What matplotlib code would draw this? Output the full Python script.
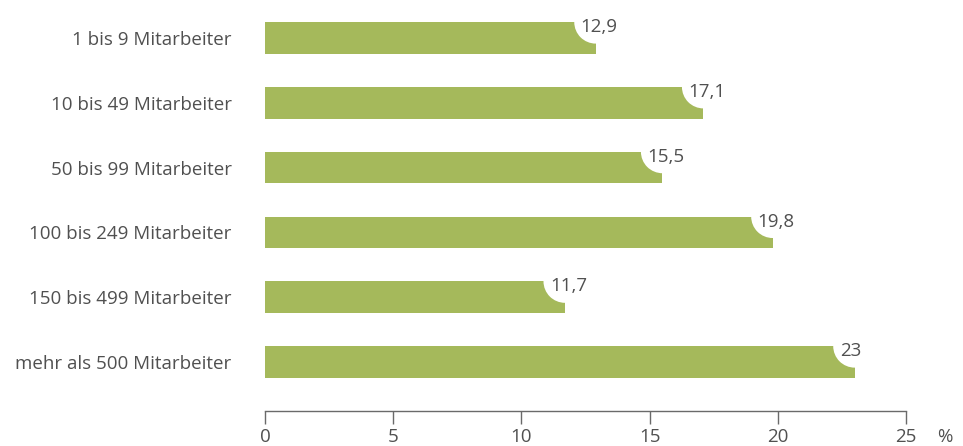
import matplotlib
matplotlib.use("Agg")
import matplotlib.pyplot as plt
from matplotlib.patches import Circle
from matplotlib.transforms import ScaledTranslation

plt.rcParams["font.family"] = ["Open Sans", "DejaVu Sans"]

categories = [
    "1 bis 9 Mitarbeiter",
    "10 bis 49 Mitarbeiter",
    "50 bis 99 Mitarbeiter",
    "100 bis 249 Mitarbeiter",
    "150 bis 499 Mitarbeiter",
    "mehr als 500 Mitarbeiter",
]
values = [12.9, 17.1, 15.5, 19.8, 11.7, 23]
xticks = [0, 5, 10, 15, 20, 25]

BAR_COLOR = "#a5b95b"
TEXT_COLOR = "#505050"
AXIS_COLOR = "#6a6a6a"
DPI = 100
PX = 72 / DPI  # points per pixel
FS = 13.5

fig = plt.figure(figsize=(9.63, 4.46), dpi=DPI)
ax = fig.add_axes([265 / 963, 35 / 446, 641 / 963, 411 / 446])

ypos = list(range(len(categories)))
h = 0.49
ax.barh(ypos, values, height=h, color=BAR_COLOR, zorder=2)

ax.set_xlim(0, 25)
ax.set_ylim(5.756, -0.586)

notch_r = 21.5 / DPI  # inches
for y, v in zip(ypos, values):
    top = y - h / 2
    trans = fig.dpi_scale_trans + ScaledTranslation(v, top, ax.transData)
    ax.add_patch(Circle((0, 0), notch_r, transform=trans, facecolor="white",
                        edgecolor="none", zorder=3, clip_on=False))
    label = f"{v:g}".replace(".", ",")
    ax.annotate(label, xy=(v, top), xytext=(-15 * PX, -10 * PX),
                textcoords="offset points", ha="left", va="baseline",
                fontsize=FS, color=TEXT_COLOR, zorder=4)

ax.set_yticks(ypos)
ax.set_yticklabels(categories, fontsize=FS, color=TEXT_COLOR)
ax.tick_params(axis="y", length=0, pad=24)

ax.set_xticks(xticks)
ax.set_xticklabels([str(t) for t in xticks], fontsize=FS, color=TEXT_COLOR)
ax.tick_params(axis="x", direction="out", length=13 * PX, width=1,
               color=AXIS_COLOR, pad=3)

for s in ["top", "right", "left"]:
    ax.spines[s].set_visible(False)
ax.spines["bottom"].set_color(AXIS_COLOR)
ax.spines["bottom"].set_linewidth(1)

fig.text(945 / 963, 1 - 437 / 446, "%", ha="center", va="center",
         fontsize=FS, color=TEXT_COLOR)

fig.savefig("out.png", dpi=DPI, facecolor="white")
